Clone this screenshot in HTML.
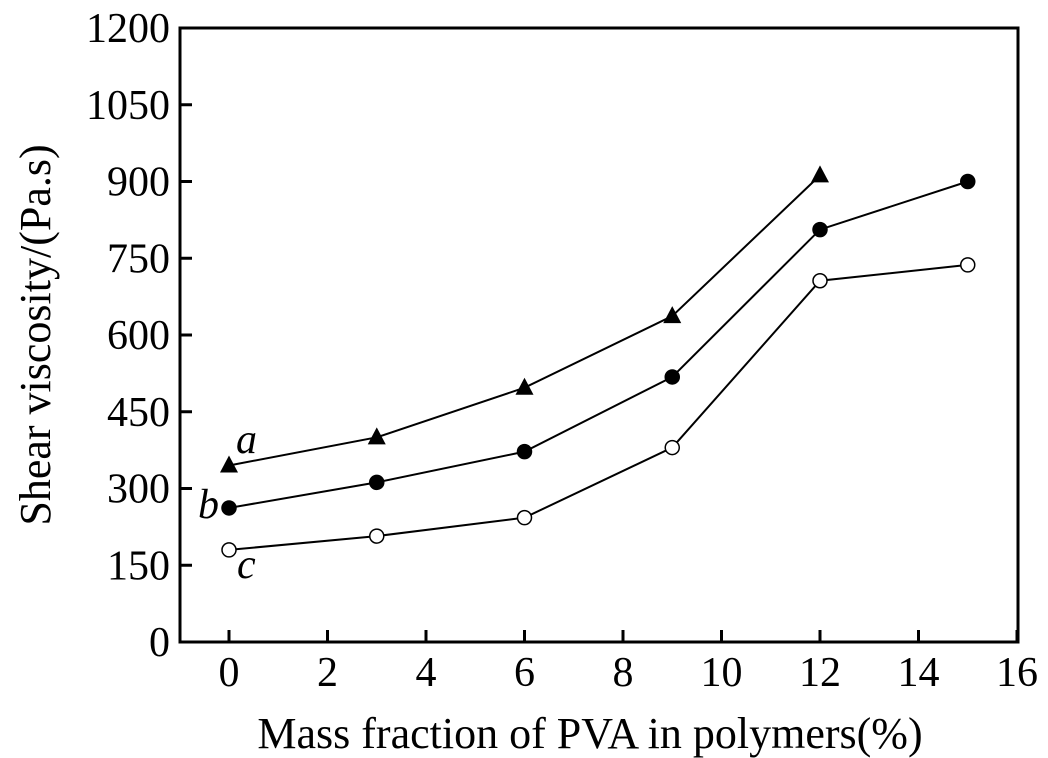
<!DOCTYPE html>
<html><head><meta charset="utf-8"><style>
html,body{margin:0;padding:0;background:#fff;}
svg{display:block;font-family:"Liberation Serif",serif;}
</style></head><body>
<svg id="chart" width="1048" height="758">
<rect x="180" y="28" width="838" height="614" fill="none" stroke="#000" stroke-width="3"/>
<g id="ticks"></g><g id="series"></g>
<text x="590" y="748" font-size="44" text-anchor="middle">Mass fraction of PVA in polymers(%)</text>
<text transform="translate(50,335) rotate(-90)" font-size="44" text-anchor="middle">Shear viscosity/(Pa.s)</text>
</svg>
<script>
const xTicks=[0,2,4,6,8,10,12,14,16];
const yTicks=[0,150,300,450,600,750,900,1050,1200];
const xVals=[0,3,6,9,12,15];
const seriesA=[345,400,497,637,912];
const seriesB=[262,312,372,518,806,900];
const seriesC=[180,207,243,380,706,737];
const NS="http://www.w3.org/2000/svg";
const X=v=>229+v*49.25, Y=v=>642-v*614/1200;
function mk(t,a,p){const e=document.createElementNS(NS,t);for(const k in a)e.setAttribute(k,a[k]);p.appendChild(e);return e;}
const tg=document.getElementById('ticks'),sg=document.getElementById('series');
xTicks.forEach(v=>{
 const l=mk('line',{x1:X(v),x2:X(v),y1:642,y2:630,stroke:'#000','stroke-width':3},tg);
 
 
 const t=mk('text',{x:X(v),y:686,'font-size':42,'text-anchor':'middle'},tg);t.textContent=v;
 
 
});
yTicks.forEach(v=>{
 const l=mk('line',{x1:180,x2:192,y1:Y(v),y2:Y(v),stroke:'#000','stroke-width':3},tg);
 
 
 const t=mk('text',{x:170,y:Y(v)+14,'font-size':42,'text-anchor':'end'},tg);t.textContent=v;
 
 
});
function draw(vals,kind,name){
 const pts=vals.map((v,i)=>X(xVals[i])+','+Y(v)).join(' ');
 const pl=mk('polyline',{points:pts,fill:'none',stroke:'#000','stroke-width':2},sg);
 
 
 vals.forEach((v,i)=>{
  const x=X(xVals[i]),y=Y(v);let m;
  if(kind==='tri') m=mk('polygon',{points:`${x},${y-10} ${x-9},${y+7} ${x+9},${y+7}`,fill:'#000'},sg);
  else m=mk('circle',{cx:x,cy:y,r:7,fill:kind==='open'?'#fff':'#000',stroke:'#000','stroke-width':1.5},sg);
  
  
 });
}
draw(seriesA,'tri','series-a');draw(seriesB,'fill','series-b');draw(seriesC,'open','series-c');
[['a',236,453],['b',198,518],['c',237,578]].forEach(([s,x,y])=>{
 const t=mk('text',{x:x,y:y,'font-size':42,'font-style':'italic'},sg);t.textContent=s;
 
 
});
</script>
</body></html>
